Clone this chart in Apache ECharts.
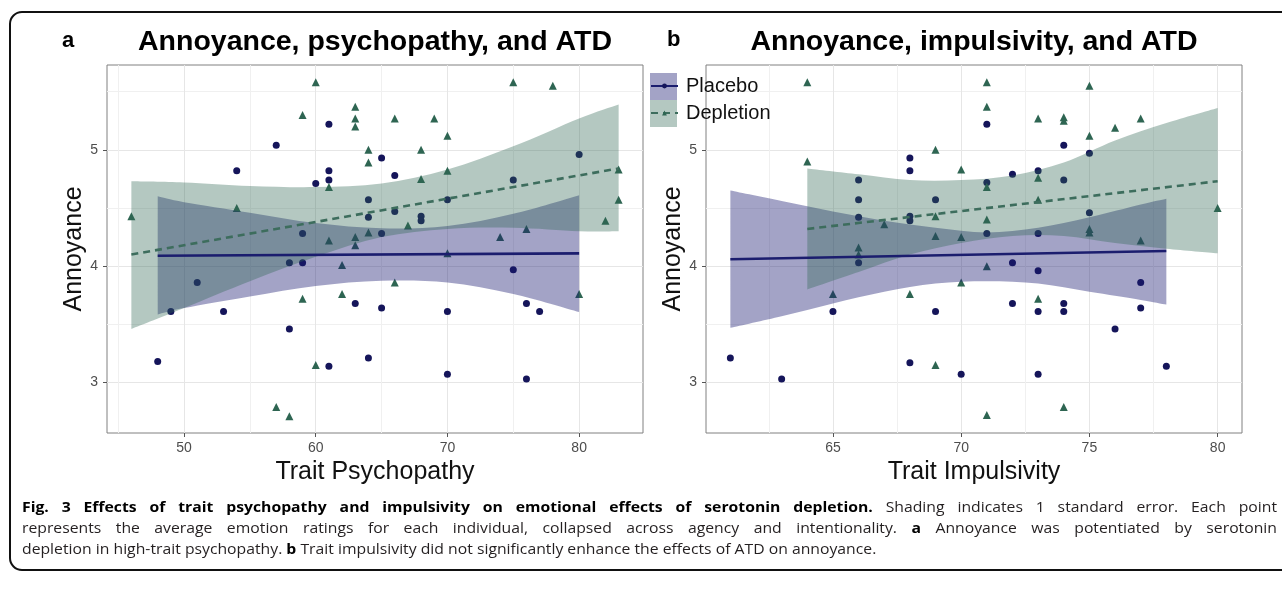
<!DOCTYPE html>
<html><head><meta charset="utf-8">
<script src="https://cdn.jsdelivr.net/npm/echarts@6/dist/echarts.min.js"></script>
<style>html,body{margin:0;padding:0;background:#fff}#c{width:1282px;height:590px}</style>
</head><body><div id="c"></div>
<script>
// ---------------- data ----------------
const panelTitles = ['Annoyance, psychopathy, and ATD', 'Annoyance, impulsivity, and ATD'];
const panelLetters = ['a', 'b'];
const xTitles = ['Trait Psychopathy', 'Trait Impulsivity'];
const yTitle = 'Annoyance';
const groupNames = ['Placebo', 'Depletion'];

const yTicks = [3, 4, 5];
const yMinorTicks = [3.5, 4.5, 5.5];
const xTicksA = [50, 60, 70, 80];
const xMinorTicksA = [45, 55, 65, 75];
const xTicksB = [65, 70, 75, 80];
const xMinorTicksB = [62.5, 67.5, 72.5, 77.5];
const yRange = [2.566, 5.729];
const xRangeA = [44.15, 84.85];
const xRangeB = [60.05, 80.95];

// panel a: individual points
const aPlaceboX = [48,49,51,53,54,57,58,58,59,59,60,61,61,61,61,63,64,64,64,65,65,65,66,66,68,68,70,70,70,75,75,76,76,77,80];
const aPlaceboY = [3.18,3.61,3.86,3.61,4.82,5.04,4.03,3.46,4.03,4.28,4.71,5.22,4.82,4.74,3.14,3.68,4.57,4.42,3.21,4.93,4.28,3.64,4.78,4.47,4.43,4.39,4.57,3.61,3.07,4.74,3.97,3.68,3.03,3.61,4.96];
const aDepletionX = [46,54,57,58,59,59,60,60,61,61,62,62,63,63,63,63,63,64,64,64,66,66,67,68,68,69,70,70,70,74,75,76,78,80,82,83,83];
const aDepletionY = [4.43,4.50,2.79,2.71,5.30,3.72,5.58,3.15,4.68,4.22,4.01,3.76,5.37,5.27,5.20,4.25,4.18,5.00,4.89,4.29,5.27,3.86,4.35,5.00,4.75,5.27,5.12,4.82,4.11,4.25,5.58,4.32,5.55,3.76,4.39,4.83,4.57];
// panel a: fitted lines and 1-SE bands
const aPlaceboFitX = [48, 80];
const aPlaceboFitY = [4.09, 4.11];
const aDepletionFitX = [46, 83];
const aDepletionFitY = [4.10, 4.84];
const aPlaceboBandX = [48, 50, 55, 60, 65, 70, 75, 80];
const aPlaceboLo = [3.585, 3.64, 3.74, 3.83, 3.875, 3.86, 3.76, 3.605];
const aPlaceboHi = [4.60, 4.55, 4.46, 4.37, 4.325, 4.345, 4.45, 4.61];
const aDepletionBandX = [46, 50, 55, 60, 65, 70, 75, 80, 83];
const aDepletionLo = [3.46, 3.64, 3.87, 4.08, 4.25, 4.32, 4.33, 4.30, 4.30];
const aDepletionHi = [4.73, 4.72, 4.69, 4.68, 4.71, 4.83, 5.03, 5.27, 5.39];

// panel b: individual points
const bPlaceboX = [61,63,65,66,66,66,66,68,68,68,68,68,69,69,70,71,71,71,72,72,72,73,73,73,73,73,74,74,74,74,75,75,76,77,77,78];
const bPlaceboY = [3.21,3.03,3.61,4.74,4.57,4.42,4.03,4.93,4.82,4.43,4.39,3.17,4.57,3.61,3.07,5.22,4.72,4.28,4.79,4.03,3.68,4.82,4.28,3.96,3.61,3.07,5.04,4.74,3.68,3.61,4.97,4.46,3.46,3.86,3.64,3.14];
const bDepletionX = [64,64,65,66,66,67,68,69,69,69,69,70,70,70,71,71,71,71,71,71,73,73,73,73,74,74,74,75,75,75,75,76,77,77,80];
const bDepletionY = [5.58,4.90,3.76,4.16,4.10,4.36,3.76,5.00,4.43,4.26,3.15,4.83,4.25,3.86,5.58,5.37,4.68,4.40,4.00,2.72,5.27,4.76,4.57,3.72,5.28,5.25,2.79,5.55,5.12,4.32,4.29,5.19,5.27,4.22,4.50];
// panel b: fitted lines and 1-SE bands
const bPlaceboFitX = [61, 78];
const bPlaceboFitY = [4.06, 4.13];
const bDepletionFitX = [64, 80];
const bDepletionFitY = [4.32, 4.73];
const bPlaceboBandX = [61, 63, 65, 67, 69, 71, 73, 75, 77, 78];
const bPlaceboLo = [3.47, 3.57, 3.68, 3.78, 3.85, 3.87, 3.85, 3.78, 3.71, 3.67];
const bPlaceboHi = [4.65, 4.56, 4.47, 4.39, 4.33, 4.29, 4.33, 4.42, 4.53, 4.58];
const bDepletionBandX = [64, 66, 68, 70, 72, 74, 76, 78, 80];
const bDepletionLo = [3.80, 3.95, 4.10, 4.20, 4.26, 4.26, 4.20, 4.15, 4.11];
const bDepletionHi = [4.84, 4.79, 4.74, 4.74, 4.78, 4.89, 5.08, 5.23, 5.36];

// figure caption: [text, bold]
const captionLines = [
  [['Fig. 3 Effects of trait psychopathy and impulsivity on emotional effects of serotonin depletion.', true], ['Shading indicates 1 standard error. Each point', false]],
  [['represents the average emotion ratings for each individual, collapsed across agency and intentionality.', false], ['a', true], ['Annoyance was potentiated by serotonin', false]],
  [['depletion in high-trait psychopathy.', false], ['b', true], ['Trait impulsivity did not significantly enhance the effects of ATD on annoyance.', false]]
];

// ---------------- styling ----------------
const NAVY_PT = '#15155a', GREEN_PT = '#2e6552';
const NAVY_LINE = '#1b1d6e', GREEN_LINE = '#3d6d5d';
const NAVY_BAND = 'rgba(25,25,112,0.40)', GREEN_BAND = 'rgba(47,102,82,0.36)';
const AX_FONT = '"Liberation Sans", Arial, sans-serif';
const CAP_FONT = '"Open Sans", sans-serif';

const zip = (xs, ys) => xs.map((x, i) => [x, ys[i]]);
const zip3 = (xs, lo, hi) => xs.map((x, i) => [x, lo[i], hi[i]]);

function catmull(pts) {
  let d = '';
  for (let i = 0; i < pts.length - 1; i++) {
    const p0 = pts[Math.max(i - 1, 0)], p1 = pts[i], p2 = pts[i + 1], p3 = pts[Math.min(i + 2, pts.length - 1)];
    const c1 = [p1[0] + (p2[0] - p0[0]) / 6, p1[1] + (p2[1] - p0[1]) / 6];
    const c2 = [p2[0] - (p3[0] - p1[0]) / 6, p2[1] - (p3[1] - p1[1]) / 6];
    d += ' C' + c1[0] + ',' + c1[1] + ' ' + c2[0] + ',' + c2[1] + ' ' + p2[0] + ',' + p2[1];
  }
  return d;
}

function bandSeries(name, axisIdx, xs, lo, hi, color) {
  return {
    type: 'custom', name: name, xAxisIndex: axisIdx, yAxisIndex: axisIdx,
    data: zip3(xs, lo, hi), encode: { x: 0, y: [1, 2] }, z: 3, silent: true, clip: true,
    renderItem: function (params, api) {
      if (params.dataIndexInside !== 0) return null;
      const n = params.dataInsideLength;
      const top = [], bot = [];
      for (let i = 0; i < n; i++) {
        const x = api.value(0, i);
        top.push(api.coord([x, api.value(2, i)]));
        bot.push(api.coord([x, api.value(1, i)]));
      }
      bot.reverse();
      const d = 'M' + top[0][0] + ',' + top[0][1] + catmull(top) +
        ' L' + bot[0][0] + ',' + bot[0][1] + catmull(bot) + ' Z';
      return { type: 'path', shape: { pathData: d }, style: { fill: color, stroke: null } };
    }
  };
}

function scatterSeries(name, axisIdx, xs, ys, symbol, size, color) {
  return { type: 'scatter', name: name, xAxisIndex: axisIdx, yAxisIndex: axisIdx, data: zip(xs, ys),
    symbol: symbol, symbolSize: size, itemStyle: { color: color, opacity: 1 }, z: 2, silent: true };
}

function fitSeries(name, axisIdx, xs, ys, color, lineColor, symbol, dashed) {
  return { type: 'line', name: name, xAxisIndex: axisIdx, yAxisIndex: axisIdx, data: zip(xs, ys),
    symbol: symbol, showSymbol: false, symbolSize: 6, itemStyle: { color: color },
    lineStyle: { color: lineColor, width: 2.6, type: dashed ? [7, 5] : 'solid', cap: 'butt' },
    z: 4, silent: true };
}

function xMajor(gi, range, ticks, name) {
  return { type: 'value', gridIndex: gi, min: range[0], max: range[1], position: 'bottom',
    name: name, nameLocation: 'middle', nameGap: 24,
    nameTextStyle: { fontSize: 25, color: '#111', fontFamily: AX_FONT },
    axisLine: { show: false },
    axisTick: { show: true, length: 4, inside: false, lineStyle: { color: '#555', width: 1 }, customValues: ticks },
    axisLabel: { show: true, customValues: ticks, color: '#4d4d4d', fontSize: 14, margin: 8, fontFamily: AX_FONT },
    splitLine: { show: true, lineStyle: { color: '#e6e6e6', width: 1 } },
    minorTick: { show: false }, minorSplitLine: { show: false } };
}
function xMinor(gi, range, ticks) {
  return { type: 'value', gridIndex: gi, min: range[0], max: range[1], position: 'top',
    axisLine: { show: false }, axisTick: { show: false, customValues: ticks },
    axisLabel: { show: false, customValues: ticks },
    splitLine: { show: true, lineStyle: { color: '#f0f0f0', width: 1 } } };
}
function yMajor(gi, name) {
  return { type: 'value', gridIndex: gi, min: yRange[0], max: yRange[1], position: 'left',
    name: name, nameLocation: 'middle', nameGap: 20, nameRotate: 90,
    nameTextStyle: { fontSize: 25, color: '#111', fontFamily: AX_FONT },
    axisLine: { show: false },
    axisTick: { show: true, length: 4, lineStyle: { color: '#555', width: 1 }, customValues: yTicks },
    axisLabel: { show: true, customValues: yTicks, color: '#4d4d4d', fontSize: 14, margin: 9, fontFamily: AX_FONT },
    splitLine: { show: true, lineStyle: { color: '#e6e6e6', width: 1 } } };
}
function yMinor(gi) {
  return { type: 'value', gridIndex: gi, min: yRange[0], max: yRange[1], position: 'right',
    axisLine: { show: false }, axisTick: { show: false, customValues: yMinorTicks },
    axisLabel: { show: false, customValues: yMinorTicks },
    splitLine: { show: true, lineStyle: { color: '#f0f0f0', width: 1 } } };
}

// ---------------- caption layout (justified like the printed figure) ----------------
const measCtx = document.createElement('canvas').getContext('2d');
const CAP_SIZE = 15;
function capFont(bold, size) { return (bold ? 'bold ' : '') + size + 'px ' + CAP_FONT; }
function capWords(line) { const w = []; line.forEach(([t, b]) => t.split(' ').forEach(s => w.push([s, b]))); return w; }
function wordW(t, b) { measCtx.font = capFont(b, CAP_SIZE); return measCtx.measureText(t).width; }
const CAP_LEFT = 22, CAP_RIGHT = 1277, CAP_LAST_RIGHT = 880;
const CAP_Y = [508, 529, 550];
const lastWords = capWords(captionLines[2]);
let nat = 0;
lastWords.forEach(([t, b], i) => { nat += wordW(t, b) + (i < lastWords.length - 1 ? wordW(' ', false) : 0); });
// horizontal condensing of the glyphs so the unjustified last line has the printed length
const capScale = Math.max(0.75, Math.min(1.05, (CAP_LAST_RIGHT - CAP_LEFT) / nat));
const captionEls = [];
captionLines.forEach((line, li) => {
  const words = capWords(line);
  const widths = words.map(([t, b]) => wordW(t, b) * capScale);
  const total = widths.reduce((a, b) => a + b, 0);
  const gap = li < 2 ? (CAP_RIGHT - CAP_LEFT - total) / (words.length - 1) : wordW(' ', false) * capScale;
  let x = CAP_LEFT;
  words.forEach(([t, b], i) => {
    captionEls.push({ type: 'text', x: x, y: CAP_Y[li], scaleX: capScale, silent: true,
      style: { text: t, font: capFont(b, CAP_SIZE), fill: b ? '#000' : '#231f20', textVerticalAlign: 'middle', textAlign: 'left' } });
    x += widths[i] + gap;
  });
});

// ---------------- option ----------------
const chart = echarts.init(document.getElementById('c'), null, { renderer: 'canvas' });
const option = {
  animation: false,
  backgroundColor: '#ffffff',
  tooltip: { show: false },
  grid: [
    { left: 107, top: 65, width: 536, height: 368, show: true, borderColor: '#808080', borderWidth: 1, backgroundColor: 'transparent', containLabel: false, outerBoundsMode: 'none' },
    { left: 706, top: 65, width: 536, height: 368, show: true, borderColor: '#808080', borderWidth: 1, backgroundColor: 'transparent', containLabel: false, outerBoundsMode: 'none' }
  ],
  xAxis: [
    xMajor(0, xRangeA, xTicksA, xTitles[0]), xMinor(0, xRangeA, xMinorTicksA),
    xMajor(1, xRangeB, xTicksB, xTitles[1]), xMinor(1, xRangeB, xMinorTicksB)
  ],
  yAxis: [
    yMajor(0, yTitle), yMinor(0),
    yMajor(1, yTitle), yMinor(1)
  ],
  legend: {
    show: true, data: groupNames, orient: 'vertical', left: 650, top: 76, padding: 0,
    itemWidth: 27, itemHeight: 6, itemGap: 7, selectedMode: false,
    textStyle: { fontSize: 20, color: '#111', fontFamily: AX_FONT, padding: [0, 0, 0, 3] }
  },
  series: [
    fitSeries(groupNames[0], 0, aPlaceboFitX, aPlaceboFitY, NAVY_PT, NAVY_LINE, 'circle', false),
    fitSeries(groupNames[1], 0, aDepletionFitX, aDepletionFitY, GREEN_PT, GREEN_LINE, 'triangle', true),
    fitSeries(groupNames[0], 2, bPlaceboFitX, bPlaceboFitY, NAVY_PT, NAVY_LINE, 'circle', false),
    fitSeries(groupNames[1], 2, bDepletionFitX, bDepletionFitY, GREEN_PT, GREEN_LINE, 'triangle', true),
    scatterSeries('Placebo individuals', 0, aPlaceboX, aPlaceboY, 'circle', 7, NAVY_PT),
    scatterSeries('Depletion individuals', 0, aDepletionX, aDepletionY, 'triangle', 8, GREEN_PT),
    scatterSeries('Placebo individuals', 2, bPlaceboX, bPlaceboY, 'circle', 7, NAVY_PT),
    scatterSeries('Depletion individuals', 2, bDepletionX, bDepletionY, 'triangle', 8, GREEN_PT),
    bandSeries('Placebo ±1 SE', 0, aPlaceboBandX, aPlaceboLo, aPlaceboHi, NAVY_BAND),
    bandSeries('Depletion ±1 SE', 0, aDepletionBandX, aDepletionLo, aDepletionHi, GREEN_BAND),
    bandSeries('Placebo ±1 SE', 2, bPlaceboBandX, bPlaceboLo, bPlaceboHi, NAVY_BAND),
    bandSeries('Depletion ±1 SE', 2, bDepletionBandX, bDepletionLo, bDepletionHi, GREEN_BAND)
  ],
  graphic: [
    { type: 'rect', z: 0, silent: true, shape: { x: 10, y: 12, width: 1300, height: 558, r: 12 },
      style: { fill: 'none', stroke: '#111', lineWidth: 2 } },
    { type: 'rect', z: 1, silent: true, shape: { x: 650, y: 73, width: 27, height: 27 }, style: { fill: NAVY_BAND } },
    { type: 'rect', z: 1, silent: true, shape: { x: 650, y: 100, width: 27, height: 27 }, style: { fill: GREEN_BAND } },
    { type: 'text', x: 375, y: 42, silent: true, style: { text: panelTitles[0], font: 'bold 28.5px ' + AX_FONT, fill: '#000', textAlign: 'center', textVerticalAlign: 'middle' } },
    { type: 'text', x: 974, y: 42, silent: true, style: { text: panelTitles[1], font: 'bold 28.5px ' + AX_FONT, fill: '#000', textAlign: 'center', textVerticalAlign: 'middle' } },
    { type: 'text', x: 62, y: 41, silent: true, style: { text: panelLetters[0], font: 'bold 22px ' + AX_FONT, fill: '#000', textAlign: 'left', textVerticalAlign: 'middle' } },
    { type: 'text', x: 667, y: 40, silent: true, style: { text: panelLetters[1], font: 'bold 22px ' + AX_FONT, fill: '#000', textAlign: 'left', textVerticalAlign: 'middle' } }
  ].concat(captionEls)
};
chart.setOption(option);
</script>
</body></html>
